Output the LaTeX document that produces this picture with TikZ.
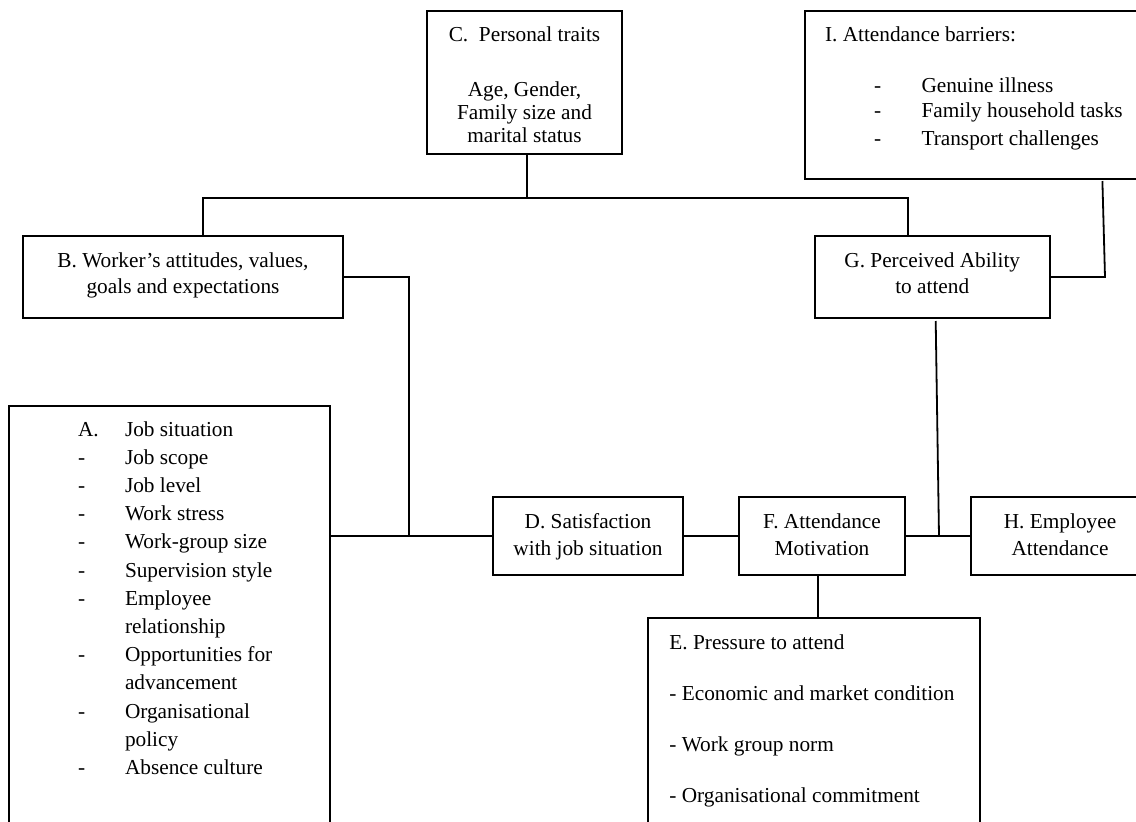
\documentclass[tikz,border=0pt]{standalone}
\usepackage{fontspec}
\setmainfont{Liberation Serif}
\begin{document}
\begin{tikzpicture}[x=1pt,y=-1pt,
  box/.style={draw, line width=2pt, inner sep=0pt, outer sep=0pt},
  txt/.style={inner sep=0pt, outer sep=0pt, font=\fontsize{21.3}{28}\selectfont},
  ctxt/.style={txt, anchor=base},
  ltxt/.style={txt, anchor=base west},
  link/.style={line width=1.8pt}]
\useasboundingbox (0,0) rectangle (1136,822);
\clip (0,0) rectangle (1136,822);

% boxes
\node[box, minimum width=195pt, minimum height=143pt] (C) at (524.5,82.5) {};
\node[box, minimum width=380pt, minimum height=168pt] (I) at (995,95) {};
\node[box, minimum width=320pt, minimum height=82pt] (B) at (183,277) {};
\node[box, minimum width=234.5pt, minimum height=82pt] (G) at (932.25,277) {};
\node[box, minimum width=321.5pt, minimum height=494pt] (A) at (169.25,653) {};
\node[box, minimum width=190pt, minimum height=78pt] (D) at (588,536) {};
\node[box, minimum width=166pt, minimum height=78pt] (F) at (822,536) {};
\node[box, minimum width=178pt, minimum height=78pt] (H) at (1060,536) {};
\node[box, minimum width=331.2pt, minimum height=282pt] (E) at (814,759) {};

% connectors
\coordinate (jc) at (527,198);
\coordinate (jl) at (203,198);
\coordinate (jr) at (908,198);
\draw[link] (jc |- C.south) -- (jc);
\draw[link] (jl |- B.north) -- (jl) -- (jr) -- (jr |- G.north);
\coordinate (jb) at (409,536);
\draw[link] (B.east) -- (B.east -| jb) -- (jb);
\draw[link] (A.east |- jb) -- (D.west);
\draw[link] (D.east) -- (F.west);
\draw[link] (F.east) -- (H.west);
\coordinate (jg) at (939,536);
\coordinate (gs) at (935.7,321);
\draw[link] (gs) -- (jg);
\coordinate (ji) at (1105,277);
\coordinate (ib) at (1102.4,181);
\draw[link] (G.east) -- (ji) -- (ib);
\coordinate (fe) at (817.6,575);
\draw[link] (fe) -- (fe |- E.north);

% C text
\node[ctxt] (c1) at (524.5,41) {C.\hspace{0.5em}Personal traits};
\node[ctxt] (c2) at (524.5,96) {Age, Gender,};
\node[ctxt] (c3) at (524.5,119) {Family size and};
\node[ctxt] (c4) at (524.5,142) {marital status};

% I text
\node[ltxt] (i0) at (825,41) {I. Attendance barriers:};
\node[ltxt] (i1d) at (874,92) {-};
\node[ltxt] (i1) at (921.5,92) {Genuine illness};
\node[ltxt] (i2d) at (874,117) {-};
\node[ltxt] (i2) at (921.5,117) {Family household tasks};
\node[ltxt] (i3d) at (874,145) {-};
\node[ltxt] (i3) at (921.5,145) {Transport challenges};

% B, G text
\node[ctxt] (b1) at (183,267) {B. Worker’s attitudes, values,};
\node[ctxt] (b2) at (183,293.5) {goals and expectations};
\node[ctxt] (g1) at (932.25,267) {G. Perceived Ability};
\node[ctxt] (g2) at (932.25,293.5) {to attend};

% D, F, H text
\node[ctxt] (d1) at (588,528) {D. Satisfaction};
\node[ctxt] (d2) at (588,555) {with job situation};
\node[ctxt] (f1) at (822,528) {F. Attendance};
\node[ctxt] (f2) at (822,555) {Motivation};
\node[ctxt] (h1) at (1060,528) {H. Employee};
\node[ctxt] (h2) at (1060,555) {Attendance};

% A text
\node[ltxt] (a0l) at (78,436) {A.};
\foreach \k/\d/\t in {0//Job situation,1/-/Job scope,2/-/Job level,3/-/Work stress,
  4/-/Work-group size,5/-/Supervision style,6/-/Employee,7//relationship,
  8/-/Opportunities for,9//advancement,10/-/Organisational,11//policy,12/-/Absence culture}{
  \node[ltxt] (ad\k) at (78,436+28.2*\k) {\d};
  \node[ltxt] (a\k) at (125,436+28.2*\k) {\t};
}

% E text
\node[ltxt] (e0) at (669.4,649) {E. Pressure to attend};
\node[ltxt] (e1) at (669.4,700) {- Economic and market condition};
\node[ltxt] (e2) at (669.4,751) {- Work group norm};
\node[ltxt] (e3) at (669.4,802) {- Organisational commitment};
\end{tikzpicture}
\end{document}
